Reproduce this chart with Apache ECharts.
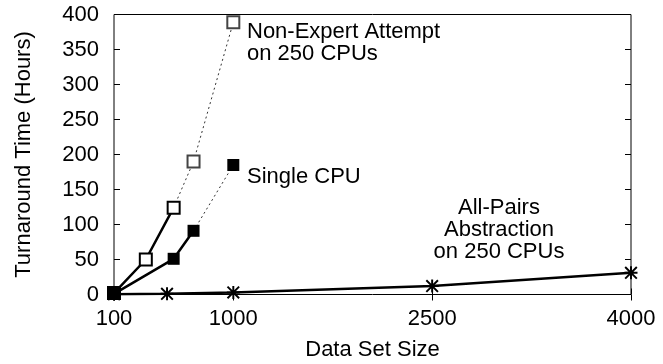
<!DOCTYPE html>
<html>
<head>
<meta charset="utf-8">
<script src="https://cdn.jsdelivr.net/npm/echarts@6/dist/echarts.min.js"></script>
<style>
  html, body { margin: 0; padding: 0; background: #fff; }
  #chart { width: 663px; height: 364px; }
</style>
</head>
<body>
<div id="chart"></div>
<script>
// data
const xTicks = [100, 1000, 2500, 4000]
const nonExpertX = [100, 340, 550, 700, 1000]
const nonExpertY = [2, 50, 124, 190, 389]
const nonExpertMeasured = 3   // first points solid, rest dotted
const singleX = [100, 550, 700, 1000]
const singleY = [1, 51, 91, 185]
const singleMeasured = 3
const allPairsX = [100, 500, 1000, 2500, 4000]
const allPairsY = [0.5, 1, 3, 12, 31]

const font = 'Liberation Sans, Arial, sans-serif'
const asterisk = 'path://M0,8.5L20,8.5L20,11.5L0,11.5Z M8.5,0L11.5,0L11.5,20L8.5,20Z M2.1,0L20,17.9L17.9,20L0,2.1Z M17.9,0L20,2.1L2.1,20L0,17.9Z'

function pairs(xs, ys, from, to) {
  const out = []
  for (let i = from; i < to; i++) out.push([xs[i], ys[i]])
  return out
}

const neSolid = pairs(nonExpertX, nonExpertY, 0, nonExpertMeasured)
const neDotted = pairs(nonExpertX, nonExpertY, nonExpertMeasured - 1, nonExpertX.length)
  .map((p, i) => i === 0 ? { value: p, symbol: 'none' } : p)
const sgSolid = pairs(singleX, singleY, 0, singleMeasured)
const sgDotted = pairs(singleX, singleY, singleMeasured - 1, singleX.length)
  .map((p, i) => i === 0 ? { value: p, symbol: 'none' } : p)
const apData = pairs(allPairsX, allPairsY, 0, allPairsX.length)

const tickIn = { show: true, inside: true, length: 6, lineStyle: { color: '#000', width: 1 } }
const plain = v => String(v)

const myChart = echarts.init(document.getElementById('chart'))
myChart.setOption({
  animation: false,
  grid: {
    left: 114, right: 32, top: 14.5, bottom: 69.5,
    outerBoundsMode: 'none', containLabel: false,
    show: true, borderColor: '#000', borderWidth: 1
  },
  xAxis: [{
    type: 'value', min: 100, max: 4000,
    name: 'Data Set Size', nameLocation: 'middle', nameGap: 44, nameMoveOverlap: false,
    nameTextStyle: { fontFamily: font, fontSize: 22, color: '#000' },
    axisLine: { show: false },
    axisTick: Object.assign({ customValues: xTicks }, tickIn),
    axisLabel: { customValues: xTicks, formatter: plain, margin: 13, fontFamily: font, fontSize: 22, color: '#000' },
    splitLine: { show: false }
  }, {
    type: 'value', min: 100, max: 4000, position: 'top',
    axisLine: { show: false },
    axisTick: Object.assign({ customValues: xTicks }, tickIn),
    axisLabel: { show: false },
    splitLine: { show: false }
  }],
  yAxis: [{
    type: 'value', min: 0, max: 400, interval: 50,
    name: 'Turnaround Time (Hours)', nameLocation: 'middle', nameGap: 79, nameMoveOverlap: false,
    nameTextStyle: { fontFamily: font, fontSize: 22, color: '#000' },
    axisLine: { show: false },
    axisTick: tickIn,
    axisLabel: { formatter: plain, margin: 15, fontFamily: font, fontSize: 22, color: '#000' },
    splitLine: { show: false }
  }, {
    type: 'value', min: 0, max: 400, interval: 50, position: 'right',
    axisLine: { show: false },
    axisTick: tickIn,
    axisLabel: { show: false },
    splitLine: { show: false }
  }],
  series: [
    {
      type: 'line', data: neDotted, z: 2,
      lineStyle: { color: '#333', width: 1, type: [2, 3] },
      symbol: 'emptyRect', symbolSize: 12,
      itemStyle: { color: '#444', borderWidth: 1 }
    },
    {
      type: 'line', data: sgDotted, z: 2,
      lineStyle: { color: '#333', width: 1, type: [2, 3] },
      symbol: 'rect', symbolSize: 12,
      itemStyle: { color: '#000', borderWidth: 0 }
    },
    {
      type: 'line', data: neSolid, z: 3,
      lineStyle: { color: '#000', width: 2.5 },
      symbol: 'emptyRect', symbolSize: 12,
      itemStyle: { color: '#000', borderWidth: 2 }
    },
    {
      type: 'line', data: sgSolid, z: 3,
      lineStyle: { color: '#000', width: 2.5 },
      symbol: 'rect', symbolSize: 12,
      itemStyle: { color: '#000', borderWidth: 0 }
    },
    {
      type: 'line', data: apData, z: 4,
      lineStyle: { color: '#000', width: 2.5 },
      symbol: asterisk, symbolSize: 13,
      itemStyle: { color: '#000', borderWidth: 0 }
    }
  ],
  graphic: [
    {
      type: 'text', x: 247, y: 21,
      style: { text: 'Non-Expert Attempt\non 250 CPUs', font: '22px ' + font, lineHeight: 22, fill: '#000', textVerticalAlign: 'top' }
    },
    {
      type: 'text', x: 247, y: 166,
      style: { text: 'Single CPU', font: '22px ' + font, lineHeight: 22, fill: '#000', textVerticalAlign: 'top' }
    },
    {
      type: 'text', x: 499, y: 197,
      style: { text: 'All-Pairs\nAbstraction\non 250 CPUs', font: '22px ' + font, lineHeight: 22, fill: '#000', textAlign: 'center', textVerticalAlign: 'top' }
    }
  ]
})
</script>
</body>
</html>
